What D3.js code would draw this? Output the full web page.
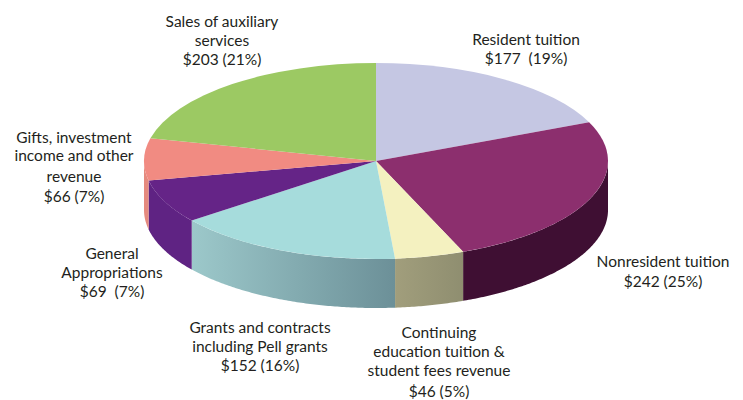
<!doctype html>
<html>
<head>
<script src="https://d3js.org/d3.v7.min.js"></script>
<style>
html, body { margin: 0; padding: 0; background: #fff; }
text { font-family: "Lato", sans-serif; font-size: 15.5px; fill: #231f20; text-anchor: middle; }
</style>
</head>
<body>
<svg width="743" height="400" id="chart"></svg>

<script type="text/javascript">
// slices, clockwise from 12 o'clock, $ values
var categories = ["Resident tuition", "Nonresident tuition", "Continuing education tuition & student fees revenue",
  "Grants and contracts including Pell grants", "General Appropriations", "Gifts, investment income and other revenue",
  "Sales of auxiliary services"];
var dollars = [177, 242, 46, 152, 69, 66, 203];

var labelLines = [
  ["Resident tuition", "$177  (19%)"],
  ["Nonresident tuition", "$242 (25%)"],
  ["Continuing", "education tuition &", "student fees revenue", "$46 (5%)"],
  ["Grants and contracts", "including Pell grants", "$152 (16%)"],
  ["General", "Appropriations", "$69  (7%)"],
  ["Gifts, investment", "income and other", "revenue", "$66 (7%)"],
  ["Sales of auxiliary", "services", "$203 (21%)"]
];

// label centre x and the baseline of each line
var labelX = [526, 663, 439, 260, 112, 74, 222];
var labelY = [
  [45, 64],
  [267, 287],
  [338, 357, 376, 397],
  [333, 352, 371],
  [259, 278, 297],
  [143, 161, 182, 202],
  [27, 46, 65]
];

var topColors = ["#c5c7e3", "#8c2f6e", "#f4f1c0", "#a6dcdc", "#652487", "#f18b82", "#9cc963"];
var wallFrom = ["#3f0f33", "#3f0f33", "#a19e7c", "#9cc8ca", "#5f2383", "#e58a7e", "#9cc963"];
var wallTo = ["#3f0f33", "#3f0f33", "#8f8e70", "#6c9098", "#5f2383", "#e58a7e", "#9cc963"];

var cx = 376, cy = 161, rx = 232, ry = 98, depth = 49;

var svg = d3.select("svg");
var x = d3.scaleLinear().domain([-1, 1]).range([cx - rx, cx + rx]);
var y = d3.scaleLinear().domain([-1, 1]).range([cy - ry, cy + ry]);

var pie = d3.pie().sort(null);
var slices = pie(dollars);

var defs = svg.append("defs");
slices.forEach(function (d, i) {
  var g = defs.append("linearGradient").attr("id", "wall" + i);
  g.append("stop").attr("offset", "0%").attr("stop-color", wallFrom[i]);
  g.append("stop").attr("offset", "100%").attr("stop-color", wallTo[i]);
});

// side walls, only the front half of the ellipse shows
var wall = d3.area()
  .x(function (a) { return x(Math.sin(a)); })
  .y0(function (a) { return y(-Math.cos(a)); })
  .y1(function (a) { return y(-Math.cos(a)) + depth; });

svg.selectAll(".wall").data(slices)
  .enter()
  .append("path")
  .attr("class", "wall")
  .attr("fill", function (d, i) { return "url(#wall" + i + ")"; })
  .attr("d", function (d) {
    var from = Math.max(d.startAngle, Math.PI / 2);
    var to = Math.min(d.endAngle, Math.PI * 1.5);
    if (to <= from) return null;
    var angles = d3.range(from, to, 0.01).concat([to]);
    return wall(angles);
  });

// top face: a circle pie squashed into the ellipse
var arc = d3.arc().innerRadius(0).outerRadius(rx);
svg.append("g")
  .attr("transform", "translate(" + cx + "," + cy + ") scale(1," + (ry / rx) + ")")
  .selectAll("path").data(slices)
  .enter()
  .append("path")
  .attr("fill", function (d, i) { return topColors[i]; })
  .attr("d", arc);

// labels
svg.selectAll(".label").data(labelLines)
  .enter()
  .append("text")
  .attr("class", "label")
  .attr("xml:space", "preserve")
  .style("white-space", "pre")
  .each(function (lines, i) {
    d3.select(this).selectAll("tspan").data(lines)
      .enter()
      .append("tspan")
      .attr("x", labelX[i])
      .attr("y", function (l, j) { return labelY[i][j]; })
      .text(function (l) { return l; });
  });
</script>

</body>
</html>
